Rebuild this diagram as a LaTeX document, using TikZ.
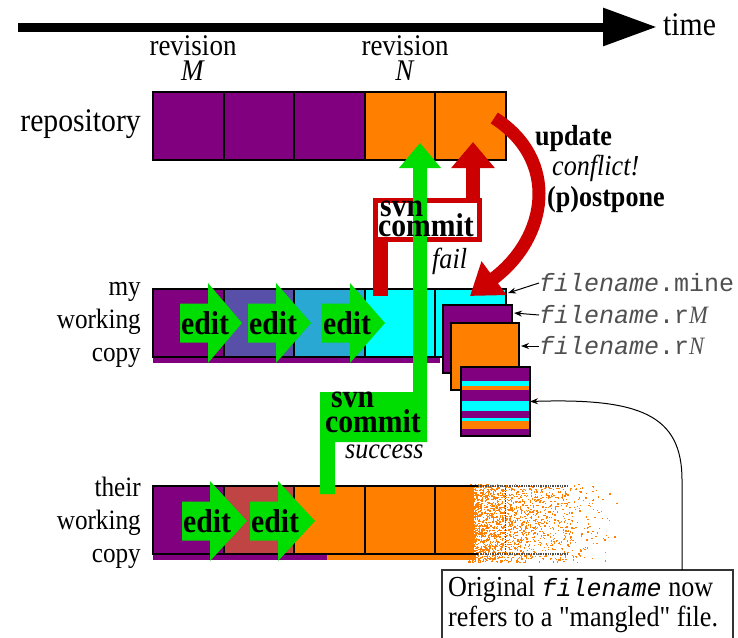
\documentclass[tikz,border=0pt]{standalone}
\usepackage{fontspec}
\setmainfont{Liberation Serif}[FakeStretch=0.9]
\setmonofont{Liberation Mono}
\newfontfamily\qfont{Liberation Serif}[FakeStretch=0.9,Ligatures=TeXOff]
\usetikzlibrary{arrows.meta}
\definecolor{vpurple}{RGB}{128,0,128}
\definecolor{vorange}{RGB}{255,128,0}
\definecolor{vcyan}{RGB}{0,255,255}
\definecolor{vslate}{RGB}{88,80,168}
\definecolor{vsky}{RGB}{40,168,210}
\definecolor{vbrick}{RGB}{192,68,68}
\definecolor{vgreen}{RGB}{0,221,0}
\definecolor{vred}{RGB}{204,0,0}
\definecolor{vgrey}{RGB}{80,80,80}
\newcommand\fs[2]{\fontsize{#1}{#2}\selectfont}
\newcommand\editarr[3]{\fill[vgreen] (#1,#2-19.5) -- (#1+28,#2-19.5) -- (#1+28,#2-40) -- (#3,#2) -- (#1+28,#2+40) -- (#1+28,#2+19.5) -- (#1,#2+19.5) -- cycle;}
\begin{document}
\begin{tikzpicture}[x=1pt,y=-1pt,
  cell/.style={draw=black,line width=2pt,minimum width=70.5pt,minimum height=68pt,inner sep=0pt,outer sep=0pt,anchor=north west},
  lbl/.style={inner sep=0pt,anchor=base east,font=\fs{28}{28}},
  edittxt/.style={inner sep=0pt,anchor=west,font=\bfseries\fs{33}{33}},
  cmdtxt/.style={inner sep=0pt,anchor=base west,font=\bfseries\fs{33}{33}},
  ittxt/.style={inner sep=0pt,anchor=base west,font=\itshape\fs{29}{29}},
  fname/.style={inner sep=0pt,anchor=west,text=vgrey,font=\ttfamily\fs{25}{25}},
  lead/.style={-{Stealth[length=8pt,width=6pt]},line width=1pt},
]
\useasboundingbox (0,0) rectangle (738,637);

% time line
\coordinate (tstart) at (18,27);
\coordinate (tend) at (657,27);
\draw[line width=9pt,-{Triangle[length=54pt,width=36pt]}] (tstart) -- (tend);
\node[anchor=west,inner sep=0pt,font=\fs{33}{33}] (time) at (663,25) {time};

% revision labels
\node[inner sep=0pt,align=center,font=\fs{30}{25}] (revM) at (193,58) {revision\\\textit{M}};
\node[inner sep=0pt,align=center,font=\fs{30}{25}] (revN) at (405,58) {revision\\\textit{N}};

% left labels
\node[inner sep=0pt,anchor=base east,font=\fs{33}{33}] (repo) at (141,131) {repository};
\node[lbl] (my1) at (141,295) {my};
\node[lbl] (my2) at (141,328) {working};
\node[lbl] (my3) at (141,361) {copy};
\node[lbl] (th1) at (141,496) {their};
\node[lbl] (th2) at (141,529) {working};
\node[lbl] (th3) at (141,562) {copy};

% repository row
\foreach \i/\c in {0/vpurple,1/vpurple,2/vpurple,3/vorange,4/vorange}
  \node[cell,fill=\c] (rep\i) at (153+70.5*\i,92) {};

% my working copy row
\fill[vpurple] (153,356) rectangle (440,363);
\foreach \i/\c in {0/vpurple,1/vslate,2/vsky,3/vcyan,4/vcyan}
  \node[cell,fill=\c] (my\i) at (153+70.5*\i,289) {};

% their working copy row
\fill[vpurple] (153,553) rectangle (327,560);
\fill[vorange] (327,553) rectangle (476,560);
\fill[vorange] (435,486) rectangle (474,554);
\pgfmathsetseed{7}
\foreach \k in {1,...,2000}{
  \pgfmathsetmacro\dx{468+155*rnd*rnd}
  \pgfmathsetmacro\dy{484+78*rnd}
  \fill[vorange] (\dx,\dy) rectangle ++(1.3,1.3);
}
\foreach \i/\c in {0/vpurple,1/vbrick,2/vorange,3/vorange}
  \node[cell,fill=\c] (th\i) at (153+70.5*\i,486) {};
\draw[line width=2pt] (435,486) -- (478,486);
\draw[line width=2pt] (435,554) -- (478,554);
\draw[line width=1.4pt,densely dotted,black!70] (478,486) -- (567,486);
\draw[line width=1.4pt,densely dotted,black!70] (478,554) -- (567,554);
\draw[line width=1.4pt,densely dotted,black!70] (505.5,486) -- (505.5,554);

% conflict files
\node[cell,fill=vpurple,minimum width=69pt,minimum height=68pt] (frM) at (443,305) {};
\node[cell,fill=vorange,minimum width=68pt,minimum height=67pt] (frN) at (451,323) {};
\foreach \a/\b/\c in {367/381/vpurple,381/386/vcyan,386/390/vorange,390/401/vpurple,401/411/vcyan,411/418/vpurple,418/421/vcyan,421/429/vorange,429/436/vpurple}
  \fill[\c] (461,\a) rectangle (530,\b);
\node[cell,minimum width=69pt,minimum height=69pt] (mang) at (461,367) {};

% failed commit (red)
\fill[vred] (373,198) rectangle (482,242);
\fill[white] (378,203) rectangle (477,237);
\fill[vred] (373,242) rectangle (388,296);
\coordinate (rfrom) at (473,201);
\coordinate (rtip) at (473,142);
\draw[vred,line width=14pt,-{Triangle[length=26pt,width=42pt]}] (rfrom) -- (rtip);

% successful commit (green)
\fill[vgreen] (320,494) -- (335,494) -- (335,442) -- (427,442) -- (427,168) -- (441,168)
  -- (420,143) -- (399,168) -- (413,168) -- (413,392) -- (320,392) -- cycle;

% edit arrows
\editarr{180}{323}{242}
\editarr{248}{323}{311}
\editarr{322}{323}{385}
\editarr{182}{521}{247}
\editarr{250}{521}{315}
\node[edittxt] (e1) at (181,323) {edit};
\node[edittxt] (e2) at (249,323) {edit};
\node[edittxt] (e3) at (323,323) {edit};
\node[edittxt] (e4) at (183,521) {edit};
\node[edittxt] (e5) at (251,521) {edit};

% command texts
\node[cmdtxt] (rsvn) at (380,216) {svn};
\node[cmdtxt] (rcommit) at (378,236) {commit};
\node[ittxt] (fail) at (432,268) {fail};
\node[cmdtxt] (gsvn) at (331,407) {svn};
\node[cmdtxt] (gcommit) at (325,432) {commit};
\node[ittxt] (succ) at (345,458) {success};

% update arrow
\draw[vred,line width=13pt,-{Triangle[length=30pt,width=40pt]}] (rep4) ++(24,-8) .. controls (560,160) and (548,238) .. (470,296);
\node[inner sep=0pt,anchor=base west,font=\bfseries\fs{29}{29}] (upd) at (535,145) {update};
\node[ittxt] (confl) at (552,175) {conflict!};
\node[inner sep=0pt,anchor=base west,font=\bfseries\fs{29}{29}] (postp) at (547,206) {(p)ostpone};

% file labels
\node[fname] (lmine) at (539,283) {\textit{filename}.mine};
\node[fname] (lrM) at (539,315) {\textit{filename}.r\textrm{\textit{M}}};
\node[fname] (lrN) at (539,346) {\textit{filename}.r\textrm{\textit{N}}};
\coordinate (tmine) at (508,293);
\coordinate (trM) at (514,313);
\coordinate (trN) at (521,346);
\draw[lead] (lmine.west) -- (tmine);
\draw[lead] (lrM.west) -- (trM);
\draw[lead] (lrN.west) -- (trN);

% note
\draw[line width=1.5pt,black!80] (442,650) -- (442,570) -- (733,570) -- (733,650);
\node[inner sep=0pt,anchor=base west,font=\fs{29}{30}] (note1) at (448,596) {Original {\ttfamily\itshape\fs{25}{30}filename} now};
\node[inner sep=0pt,anchor=base west,font=\fs{29}{30}] (note2) at (448,626) {refers to a {\qfont\symbol{34}}mangled{\qfont\symbol{34}} file.};
\coordinate (notetop) at (682,570);
\coordinate (bend) at (682,480);
\draw[lead] (notetop) -- (bend) .. controls (682,415) and (640,398) .. (mang.east);
\end{tikzpicture}
\end{document}
